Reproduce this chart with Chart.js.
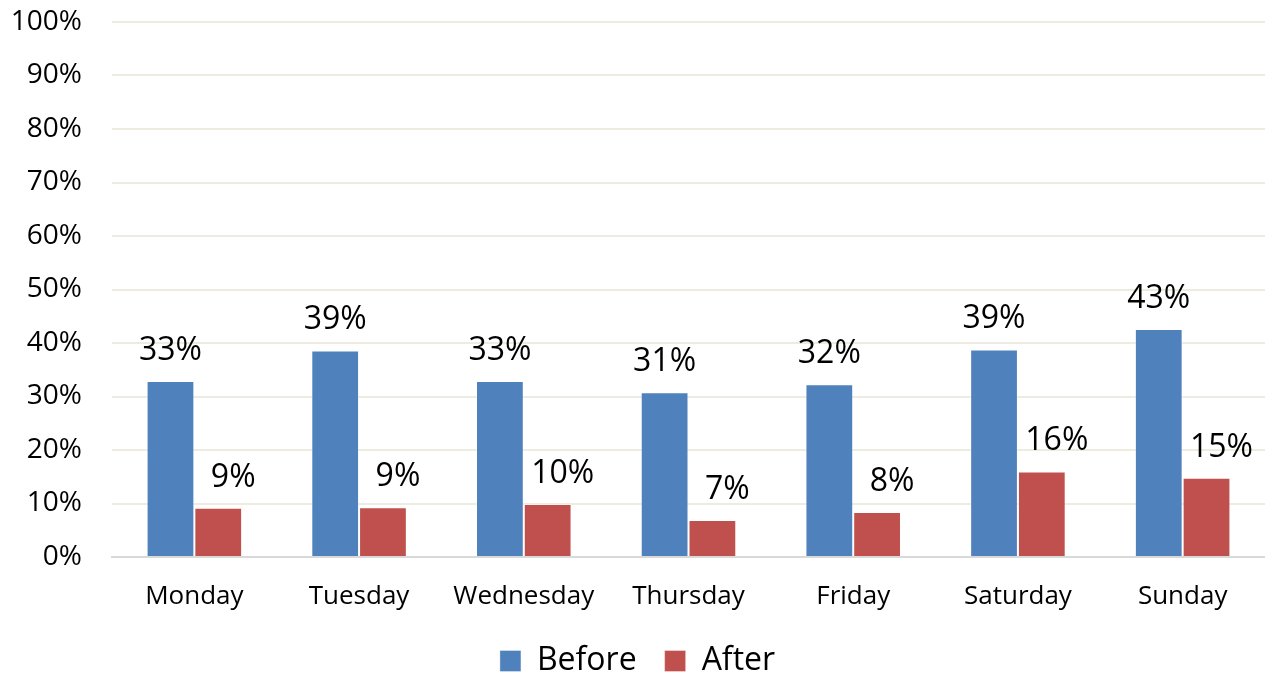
<!DOCTYPE html>
<html>
<head>
<meta charset="utf-8">
<title>Before / After by day of week</title>
<script src="https://cdn.jsdelivr.net/npm/chart.js@4/dist/chart.umd.min.js"></script>
<style>
  html, body { margin: 0; padding: 0; background: #ffffff; }
  #wrap { width: 1265px; height: 674px; position: relative; }
</style>
</head>
<body>
<div id="wrap"><canvas id="chart"></canvas></div>
<script>
// Days of the week on the category axis
const days = ['Monday', 'Tuesday', 'Wednesday', 'Thursday', 'Friday', 'Saturday', 'Sunday'];
// Share of each day, in percent
const beforeValues = [32.9, 38.6, 32.9, 30.8, 32.3, 38.8, 42.6];
const afterValues  = [9.2, 9.3, 9.9, 6.9, 8.4, 16.0, 14.8];
// Series names
const seriesNames = ['Before', 'After'];
// Value axis tick range
const yMin = 0, yMax = 100, yStep = 10;

const FONT = '"Open Sans", "Noto Sans", sans-serif';
// Horizontal nudge of each series' value labels (px)
const labelShift = [0, 15];

// Draws the rounded percentage above each bar
const valueLabels = {
  id: 'valueLabels',
  afterDatasetsDraw(chart) {
    const ctx = chart.ctx;
    ctx.save();
    ctx.font = '32px ' + FONT;
    ctx.fillStyle = '#000000';
    ctx.textAlign = 'center';
    ctx.textBaseline = 'alphabetic';
    chart.data.datasets.forEach((ds, i) => {
      const meta = chart.getDatasetMeta(i);
      meta.data.forEach((bar, j) => {
        const txt = Math.round(ds.data[j]) + '%';
        ctx.fillText(txt, bar.x + labelShift[i], bar.y - 21);
      });
    });
    ctx.restore();
  }
};

new Chart(document.getElementById('chart'), {
  type: 'bar',
  data: {
    labels: days,
    datasets: [
      { label: seriesNames[0], data: beforeValues, backgroundColor: '#4F81BD',
        borderColor: 'rgba(255,255,255,0.35)', borderWidth: 1 },
      { label: seriesNames[1], data: afterValues, backgroundColor: '#C0504D',
        borderColor: 'rgba(255,255,255,0.35)', borderWidth: 1 }
    ]
  },
  options: {
    responsive: true,
    maintainAspectRatio: false,
    animation: false,
    devicePixelRatio: 1,
    layout: { padding: { left: 10, right: 0, top: 22, bottom: -13 } },
    datasets: { bar: { categoryPercentage: 0.58, barPercentage: 1.0 } },
    scales: {
      x: {
        grid: { display: false, drawTicks: false },
        border: { display: true, color: '#D9D9D9', width: 2 },
        ticks: { font: { family: FONT, size: 26 }, color: '#000000', padding: 24 },
        afterFit(scale) { scale.height = 60; }
      },
      y: {
        min: yMin, max: yMax,
        grid: { color: '#EEECE1', lineWidth: 2, drawTicks: false },
        border: { display: false },
        ticks: {
          stepSize: yStep,
          font: { family: FONT, size: 28 },
          color: '#000000',
          padding: 30,
          callback: v => v + '%'
        },
        afterFit(scale) {
          scale.width = 102;
          // the label gap is horizontal here, so it should not reserve space above/below
          scale.paddingTop = 0;
          scale.paddingBottom = 0;
        }
      }
    },
    plugins: {
      legend: {
        position: 'bottom',
        labels: {
          font: { family: FONT, size: 32 },
          color: '#000000',
          boxWidth: 21,
          boxHeight: 21,
          padding: 28
        }
      },
      tooltip: { enabled: false }
    }
  },
  plugins: [valueLabels]
});
</script>
</body>
</html>
